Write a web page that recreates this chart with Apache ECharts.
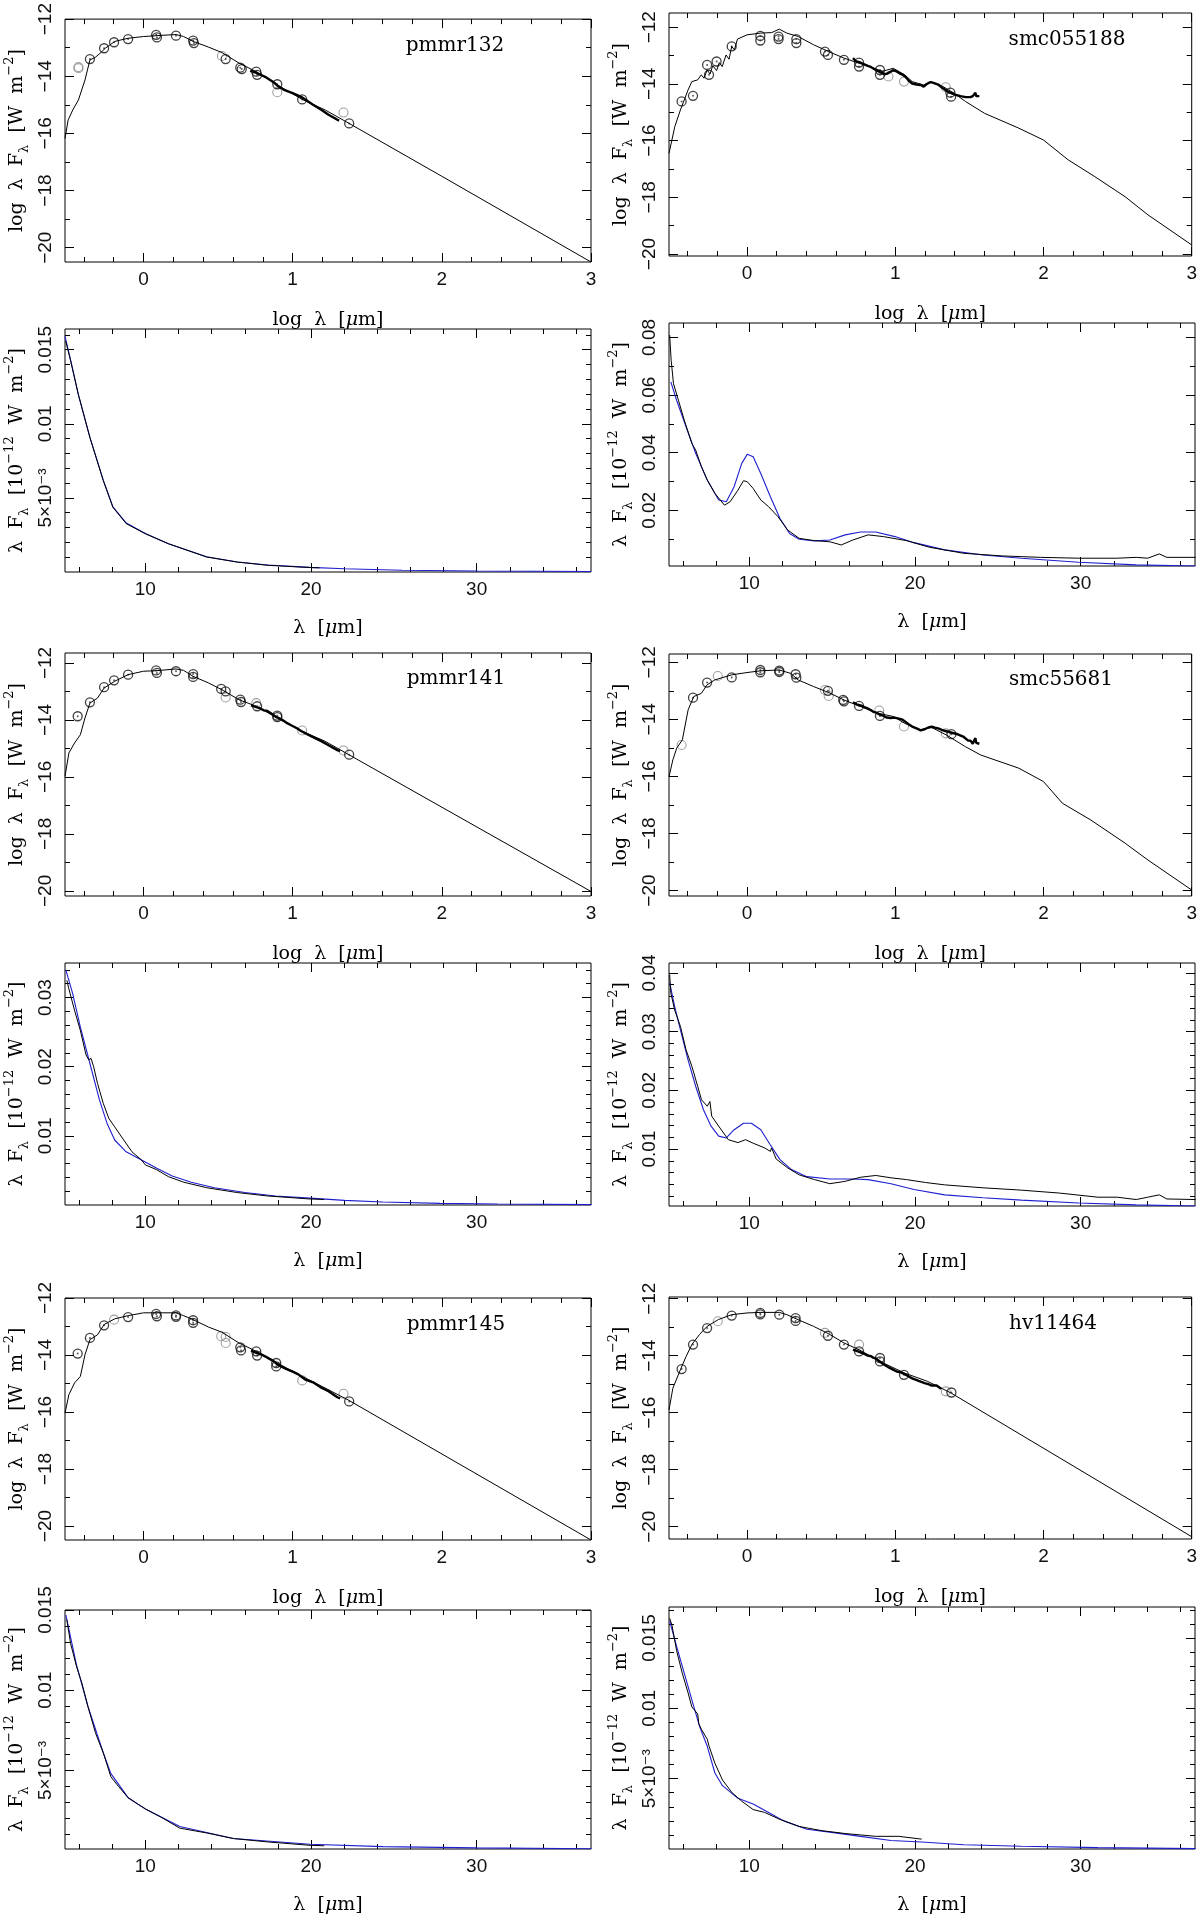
<!DOCTYPE html>
<html>
<head>
<meta charset="utf-8">
<title>SED fits</title>
<script src="https://cdn.jsdelivr.net/npm/echarts@6/dist/echarts.min.js"></script>
<style>
html, body { margin: 0; padding: 0; background: #fff; }
#chart { width: 1200px; height: 1921px; }
</style>
</head>
<body>
<div id="chart"></div>
<script>
// tick labels
var sedXLabels = [0, 1, 2, 3];
var sedXMinor = [-0.4, -0.2, 0.2, 0.4, 0.6, 0.8, 1.2, 1.4, 1.6, 1.8, 2.2, 2.4, 2.6, 2.8];
var sedYLabels = [-20, -18, -16, -14, -12];
var sedYMinor = [-19, -17, -15, -13];
var specXLabels = [10, 20, 30];
var specXMinor = [6, 8, 12, 14, 16, 18, 22, 24, 26, 28, 32, 34, 36];
var specYLabelsSmall = [0.005, 0.01, 0.015];
var specYMinorSmall = [0.001, 0.002, 0.003, 0.004, 0.006, 0.007, 0.008, 0.009, 0.011, 0.012, 0.013, 0.014, 0.016, 0.017];
var specYLabels55188 = [0.02, 0.04, 0.06, 0.08];
var specYMinor55188 = [0.01, 0.03, 0.05, 0.07];
var specYLabels141 = [0.01, 0.02, 0.03];
var specYLabels55681 = [0.01, 0.02, 0.03, 0.04];
var specYMinorMid = [0.002, 0.004, 0.006, 0.008, 0.012, 0.014, 0.016, 0.018, 0.022, 0.024, 0.026, 0.028, 0.032, 0.034, 0.036, 0.038];

// pmmr132: log lambda [um], log lambda F_lambda [W m-2]
var pmmr132Model = [[-0.526,-16.18],[-0.505,-15.53],[-0.474,-15.18],[-0.436,-14.83],[-0.392,-14.13],[-0.359,-13.43],[-0.321,-13.33],[-0.29,-13.19],[-0.256,-13.02],[-0.192,-12.78],[-0.103,-12.67],[0,-12.61],[0.115,-12.57],[0.218,-12.54],[0.269,-12.61],[0.333,-12.78],[0.436,-12.98],[0.526,-13.17],[0.641,-13.54],[0.756,-13.84],[0.897,-14.30],[1.064,-14.81],[1.218,-15.18],[1.372,-15.63],[2,-17.5],[3,-20.5]];
var pmmr132Phot = [[-0.359,-13.40],[-0.264,-13.02],[-0.197,-12.81],[-0.103,-12.70],[0.085,-12.55],[0.090,-12.64],[0.218,-12.58],[0.333,-12.75],[0.338,-12.84],[0.551,-13.40],[0.649,-13.70],[0.659,-13.75],[0.756,-13.84],[0.762,-13.95],[0.897,-14.28],[1.064,-14.81],[1.379,-15.65]];
var pmmr132PhotFaint = [[-0.436,-13.72],[-0.436,-13.68],[0.526,-13.29],[0.897,-14.56],[1.341,-15.27]];
// pmmr132: lambda [um], lambda F_lambda [1e-12 W m-2]
var pmmr132Spec = [[5.19,0.0156],[5.49,0.01425],[5.95,0.0120],[6.65,0.00909],[7.46,0.00617],[8.04,0.00437],[8.85,0.00326],[10,0.00258],[11.39,0.00191],[13.7,0.00101],[15.55,0.00067],[17.4,0.00045],[19.95,0.0003],[20.5,0.00028]];
var pmmr132Fit = [[5.15,0.0159],[5.49,0.0143],[5.95,0.0120],[6.65,0.0091],[7.46,0.0062],[8.04,0.0044],[8.85,0.0033],[10,0.0026],[11.39,0.0019],[13.7,0.00103],[15.55,0.00068],[17.4,0.00047],[19.95,0.00031],[22,0.00022],[25.5,0.00012],[30,0.00007],[36.9,0.00003]];

// smc055188
var smc055188Model = [[-0.526,-16.45],[-0.487,-15.51],[-0.449,-14.92],[-0.397,-14.21],[-0.372,-13.92],[-0.333,-13.86],[-0.308,-13.68],[-0.29,-13.80],[-0.269,-13.51],[-0.249,-13.65],[-0.231,-13.36],[-0.205,-13.53],[-0.187,-13.25],[-0.167,-13.39],[-0.141,-12.98],[-0.121,-13.13],[-0.103,-12.68],[-0.085,-12.80],[-0.064,-12.42],[0,-12.27],[0.09,-12.21],[0.167,-12.19],[0.218,-12.07],[0.269,-12.21],[0.346,-12.33],[0.449,-12.62],[0.551,-12.86],[0.654,-13.09],[0.756,-13.27],[0.859,-13.45],[0.91,-13.56],[0.987,-13.45],[1.064,-13.68],[1.115,-13.92],[1.192,-14.04],[1.244,-13.92],[1.321,-14.09],[1.397,-14.33],[1.474,-14.62],[1.603,-15.04],[1.833,-15.56],[2,-15.98],[2.167,-16.68],[2.346,-17.27],[2.551,-17.98],[2.705,-18.62],[3,-19.68]];
var smc055188Phot = [[-0.441,-14.62],[-0.364,-14.42],[-0.269,-13.33],[-0.256,-13.68],[-0.205,-13.21],[-0.103,-12.68],[0.09,-12.31],[0.09,-12.47],[0.213,-12.33],[0.213,-12.42],[0.333,-12.42],[0.333,-12.56],[0.526,-12.86],[0.546,-12.98],[0.654,-13.15],[0.756,-13.25],[0.756,-13.39],[0.897,-13.51],[0.897,-13.68],[1.372,-14.31],[1.377,-14.45]];
var smc055188PhotFaint = [[0.954,-13.74],[1.059,-13.92],[1.341,-14.12]];
var smc055188Spec = [[5.19,0.0808],[5.28,0.0721],[5.42,0.0640],[5.72,0.0582],[6.07,0.0513],[6.53,0.0432],[6.76,0.0409],[7.11,0.0351],[7.46,0.0305],[7.92,0.0259],[8.5,0.0218],[8.84,0.0230],[9.31,0.0270],[9.65,0.0303],[9.88,0.0299],[10.23,0.0276],[10.69,0.0236],[11.16,0.0213],[11.73,0.0178],[12.31,0.0132],[13.01,0.0103],[13.93,0.0095],[14.86,0.0091],[15.55,0.0080],[16.24,0.0097],[17.17,0.0115],[18.09,0.0109],[19.48,0.0095],[20.87,0.0072],[22.95,0.0051],[25.26,0.0042],[27.57,0.0037],[29.88,0.0034],[32.2,0.0034],[33.35,0.0037],[34.05,0.0034],[34.74,0.0049],[35.2,0.0037],[36.94,0.0037]];
var smc055188Fit = [[5.26,0.0646],[5.61,0.0582],[6.18,0.0490],[6.76,0.0398],[7.46,0.0305],[8.15,0.0236],[8.61,0.0230],[9.08,0.0282],[9.54,0.0363],[9.88,0.0395],[10.23,0.0386],[10.69,0.0328],[11.27,0.0247],[11.85,0.0172],[12.43,0.0120],[13.01,0.0100],[13.93,0.0094],[14.86,0.0097],[15.78,0.0115],[16.71,0.0125],[17.63,0.0125],[18.79,0.0109],[19.94,0.0088],[21.79,0.0063],[24.1,0.0045],[26.42,0.0034],[29.88,0.0020],[33.35,0.0011],[36.94,0.0007]];

// pmmr141
var pmmr141Model = [[-0.526,-15.98],[-0.5,-15.16],[-0.462,-14.81],[-0.423,-14.52],[-0.392,-13.93],[-0.359,-13.41],[-0.308,-13.23],[-0.264,-12.88],[-0.192,-12.64],[-0.103,-12.41],[0,-12.29],[0.09,-12.27],[0.218,-12.21],[0.269,-12.26],[0.333,-12.47],[0.436,-12.70],[0.526,-12.94],[0.641,-13.29],[0.756,-13.52],[0.897,-13.93],[1.064,-14.40],[1.218,-14.75],[1.377,-15.22],[3,-20.02]];
var pmmr141Phot = [[-0.441,-13.87],[-0.359,-13.38],[-0.264,-12.85],[-0.197,-12.61],[-0.103,-12.41],[0.085,-12.26],[0.09,-12.35],[0.218,-12.29],[0.333,-12.39],[0.333,-12.49],[0.521,-12.91],[0.551,-13.0],[0.649,-13.29],[0.654,-13.37],[0.762,-13.52],[0.897,-13.85],[0.897,-13.90],[1.379,-15.22]];
var pmmr141PhotFaint = [[0.551,-13.21],[0.756,-13.41],[1.064,-14.37],[1.341,-15.07]];
var pmmr141Spec = [[5.26,0.0325],[5.38,0.0313],[5.72,0.0282],[6.07,0.0253],[6.42,0.0217],[6.58,0.0210],[6.72,0.0212],[6.88,0.0200],[7.11,0.0176],[7.46,0.0147],[7.8,0.0125],[8.15,0.0113],[8.61,0.0097],[9.19,0.0077],[9.77,0.0065],[10,0.0058],[10.69,0.0051],[11.39,0.0041],[12.31,0.0033],[13.7,0.0025],[15.55,0.0018],[17.4,0.0013],[19.94,0.00087],[20.8,0.0008]];
var pmmr141Fit = [[5.2,0.0340],[5.61,0.0306],[6.07,0.0258],[6.65,0.0205],[7.23,0.0152],[7.69,0.0118],[8.15,0.0094],[8.84,0.0077],[9.77,0.0065],[10.69,0.0053],[11.62,0.0042],[12.77,0.0033],[14.16,0.0025],[16.01,0.0018],[17.86,0.0013],[19.94,0.0010],[22.02,0.00067],[24.34,0.00043],[27.8,0.00024],[31.27,0.00014],[36.94,0.00005]];

// smc55681
var smc55681Model = [[-0.526,-16.01],[-0.5,-15.42],[-0.474,-15.01],[-0.436,-14.72],[-0.397,-13.67],[-0.359,-13.20],[-0.308,-13.09],[-0.269,-12.79],[-0.218,-12.62],[-0.103,-12.44],[0,-12.36],[0.09,-12.30],[0.218,-12.27],[0.295,-12.39],[0.346,-12.62],[0.449,-12.85],[0.551,-13.06],[0.654,-13.32],[0.756,-13.53],[0.885,-13.79],[0.987,-13.90],[1.064,-14.14],[1.167,-14.37],[1.244,-14.28],[1.346,-14.55],[1.474,-14.96],[1.577,-15.25],[1.833,-15.71],[2,-16.18],[2.128,-16.94],[2.32,-17.53],[2.551,-18.34],[2.705,-18.93],[3,-19.98]];
var smc55681Phot = [[-0.364,-13.24],[-0.269,-12.71],[-0.103,-12.53],[0.09,-12.27],[0.09,-12.35],[0.218,-12.29],[0.218,-12.34],[0.328,-12.42],[0.333,-12.54],[0.546,-13.0],[0.649,-13.32],[0.654,-13.37],[0.756,-13.53],[0.897,-13.88],[1.379,-14.52]];
var smc55681PhotFaint = [[-0.441,-14.90],[-0.197,-12.48],[0.526,-12.97],[0.551,-13.18],[0.892,-13.69],[1.059,-14.25],[1.341,-14.49]];
var smc55681Spec = [[5.19,0.0397],[5.26,0.0366],[5.49,0.0337],[5.84,0.0309],[6.18,0.0269],[6.53,0.0241],[6.88,0.0207],[7.11,0.0184],[7.46,0.0173],[7.62,0.0181],[7.73,0.0156],[8.15,0.0139],[8.73,0.0116],[9.31,0.0111],[9.77,0.0116],[10.23,0.0110],[10.92,0.0102],[11.27,0.0096],[11.34,0.0102],[11.62,0.0083],[12.31,0.0068],[13.01,0.0056],[13.93,0.0048],[14.86,0.0041],[15.78,0.0045],[16.71,0.0052],[17.63,0.0055],[18.55,0.0051],[19.48,0.0048],[20.64,0.0043],[21.79,0.0039],[24.1,0.0034],[26.42,0.0030],[28.73,0.0025],[31.04,0.0018],[32.2,0.0018],[33.35,0.0014],[34.05,0.0018],[34.74,0.0022],[35.2,0.0015],[36.94,0.0014]];
var smc55681Fit = [[5.19,0.0383],[5.49,0.0343],[5.84,0.0303],[6.3,0.0252],[6.76,0.0207],[7.23,0.0167],[7.69,0.0139],[8.15,0.0122],[8.61,0.0119],[9.08,0.0133],[9.65,0.0144],[10.12,0.0144],[10.69,0.0133],[11.27,0.0107],[11.85,0.0082],[12.54,0.0065],[13.47,0.0053],[14.86,0.0049],[16.24,0.0049],[17.17,0.0048],[18.55,0.0041],[19.94,0.0031],[21.79,0.0022],[24.1,0.0017],[26.42,0.0013],[29.88,0.0008],[33.35,0.0005],[36.94,0.0003]];

// pmmr145
var pmmr145Model = [[-0.526,-16.04],[-0.5,-15.39],[-0.462,-14.98],[-0.423,-14.75],[-0.392,-13.99],[-0.359,-13.46],[-0.308,-13.29],[-0.264,-12.93],[-0.192,-12.73],[-0.103,-12.62],[0,-12.52],[0.09,-12.52],[0.218,-12.52],[0.269,-12.62],[0.333,-12.76],[0.436,-13.02],[0.526,-13.20],[0.641,-13.58],[0.756,-13.87],[0.897,-14.28],[1.064,-14.75],[1.218,-15.16],[1.377,-15.59],[3,-20.49]];
var pmmr145Phot = [[-0.441,-13.95],[-0.359,-13.40],[-0.264,-12.96],[-0.103,-12.67],[0.085,-12.56],[0.09,-12.64],[0.218,-12.61],[0.218,-12.66],[0.333,-12.78],[0.333,-12.87],[0.649,-13.73],[0.654,-13.84],[0.756,-13.87],[0.762,-14.02],[0.89,-14.28],[0.89,-14.40],[1.379,-15.63]];
var pmmr145PhotFaint = [[-0.197,-12.76],[0.521,-13.34],[0.551,-13.37],[0.551,-13.58],[1.064,-14.89],[1.341,-15.36]];
var pmmr145Spec = [[5.26,0.0144],[5.49,0.0129],[5.84,0.0115],[6.18,0.0104],[6.53,0.0090],[7.0,0.0073],[7.46,0.0061],[7.92,0.0046],[8.38,0.0040],[8.96,0.0033],[9.54,0.0029],[10,0.0026],[10.92,0.0021],[12.08,0.0014],[13.7,0.0011],[15.32,0.00075],[17.4,0.00054],[19.94,0.00033],[20.8,0.0003]];
var pmmr145Fit = [[5.2,0.0147],[5.84,0.0116],[6.53,0.0090],[7.46,0.0061],[7.92,0.0048],[8.96,0.0033],[10,0.0026],[12.08,0.0015],[15.32,0.00075],[19.94,0.0004],[24.34,0.00025],[30,0.00017],[36.94,0.00012]];

// hv11464
var hv11464Model = [[-0.526,-15.90],[-0.5,-15.14],[-0.449,-14.49],[-0.41,-14.02],[-0.372,-13.61],[-0.321,-13.26],[-0.269,-12.97],[-0.192,-12.73],[-0.103,-12.56],[0,-12.50],[0.09,-12.48],[0.218,-12.48],[0.269,-12.56],[0.333,-12.71],[0.449,-12.97],[0.551,-13.23],[0.654,-13.55],[0.756,-13.79],[0.897,-14.20],[1.064,-14.61],[1.218,-14.90],[1.377,-15.31],[3,-20.35]];
var hv11464Phot = [[-0.441,-14.47],[-0.364,-13.61],[-0.269,-13.03],[-0.103,-12.59],[0.09,-12.50],[0.09,-12.55],[0.218,-12.56],[0.328,-12.68],[0.328,-12.78],[0.546,-13.30],[0.654,-13.61],[0.756,-13.85],[0.897,-14.08],[0.897,-14.20],[1.059,-14.67],[1.379,-15.29]];
var hv11464PhotFaint = [[-0.197,-12.79],[0.526,-13.20],[0.756,-13.61],[1.341,-15.25]];
var hv11464Spec = [[5.19,0.0164],[5.33,0.0159],[5.61,0.0141],[5.95,0.0125],[6.3,0.0111],[6.53,0.0101],[6.88,0.0096],[6.95,0.0089],[7.11,0.0085],[7.46,0.0078],[7.57,0.0073],[7.92,0.0061],[8.38,0.0049],[8.96,0.0040],[9.54,0.0034],[10.23,0.0028],[10.92,0.0026],[11.85,0.0021],[13.01,0.0016],[14.39,0.0013],[15.78,0.0011],[16.71,0.0010],[17.63,0.0009],[19.02,0.0009],[20.4,0.0007]];
var hv11464Fit = [[5.19,0.0162],[5.61,0.0144],[6.07,0.0125],[6.53,0.0106],[7.0,0.0087],[7.46,0.0073],[7.92,0.0054],[8.38,0.0045],[9.31,0.0036],[10.23,0.0032],[11.16,0.0026],[12.08,0.0020],[13.47,0.0014],[14.86,0.0012],[16.71,0.0009],[18.55,0.0006],[20.4,0.0005],[22.95,0.0003],[26.42,0.0002],[31.04,0.0001],[36.94,0.00003]];

var panels = [
	{kind: 'sed', col: 0, top: 19, height: 243, yMin: -20.5, yMax: -12, model: pmmr132Model, phot: pmmr132Phot, faint: pmmr132PhotFaint, irs: pmmr132Spec, label: 'pmmr132', labelAt: [455, 46]},
	{kind: 'sed', col: 1, top: 13, height: 243, yMin: -20.07, yMax: -11.5, model: smc055188Model, phot: smc055188Phot, faint: smc055188PhotFaint, irs: smc055188Spec, label: 'smc055188', labelAt: [1067, 40]},
	{kind: 'spec', col: 0, top: 329, height: 243, yMin: 0, yMax: 0.0164, yLabels: specYLabelsSmall, yMinor: specYMinorSmall, obs: pmmr132Spec, fit: pmmr132Fit},
	{kind: 'spec', col: 1, top: 323, height: 243, yMin: 0.0007, yMax: 0.085, yLabels: specYLabels55188, yMinor: specYMinor55188, obs: smc055188Spec, fit: smc055188Fit},
	{kind: 'sed', col: 0, top: 653, height: 243, yMin: -20.18, yMax: -11.65, model: pmmr141Model, phot: pmmr141Phot, faint: pmmr141PhotFaint, irs: pmmr141Spec, label: 'pmmr141', labelAt: [456, 679]},
	{kind: 'sed', col: 1, top: 654, height: 242, yMin: -20.19, yMax: -11.71, model: smc55681Model, phot: smc55681Phot, faint: smc55681PhotFaint, irs: smc55681Spec, label: 'smc55681', labelAt: [1061, 680]},
	{kind: 'spec', col: 0, top: 963, height: 242, yMin: 0, yMax: 0.035, yLabels: specYLabels141, yMinor: specYMinorMid, obs: pmmr141Spec, fit: pmmr141Fit},
	{kind: 'spec', col: 1, top: 963, height: 243, yMin: 0.0003, yMax: 0.0417, yLabels: specYLabels55681, yMinor: specYMinorMid, obs: smc55681Spec, fit: smc55681Fit},
	{kind: 'sed', col: 0, top: 1298, height: 242, yMin: -20.49, yMax: -12, model: pmmr145Model, phot: pmmr145Phot, faint: pmmr145PhotFaint, irs: pmmr145Spec, label: 'pmmr145', labelAt: [456, 1325]},
	{kind: 'sed', col: 1, top: 1297, height: 242, yMin: -20.43, yMax: -11.94, model: hv11464Model, phot: hv11464Phot, faint: hv11464PhotFaint, irs: hv11464Spec, label: 'hv11464', labelAt: [1053, 1324]},
	{kind: 'spec', col: 0, top: 1610, height: 239, yMin: 0.0001, yMax: 0.0150, yLabels: specYLabelsSmall, yMinor: specYMinorSmall, obs: pmmr145Spec, fit: pmmr145Fit},
	{kind: 'spec', col: 1, top: 1607, height: 242, yMin: 0, yMax: 0.0172, yLabels: specYLabelsSmall, yMinor: specYMinorSmall, obs: hv11464Spec, fit: hv11464Fit}
];

var colLeft = [65, 669];
var gridWidth = 526;
var SERIF = '"DejaVu Serif", "Liberation Serif", serif';
var SANS = '"Liberation Sans", "DejaVu Sans", Arial, sans-serif';

var nameRich = {
	n: {fontFamily: SERIF, fontSize: 19, lineHeight: 28, color: '#000'},
	i: {fontFamily: SERIF, fontSize: 19, lineHeight: 28, fontStyle: 'italic', color: '#000'},
	sb: {fontFamily: SERIF, fontSize: 13, lineHeight: 14, verticalAlign: 'bottom', color: '#000'},
	sp: {fontFamily: SERIF, fontSize: 13, lineHeight: 14, verticalAlign: 'top', color: '#000'}
};

var sedXName = '{n|log  λ  [}{i|μ}{n|m]}';
var sedYName = '{n|log  λ  F}{sb|λ}{n|  [W  m}{sp|−2}{n|]}';
var specXName = '{n|λ  [}{i|μ}{n|m]}';
var specYName = '{n|λ  F}{sb|λ}{n|  [10}{sp|−12}{n|  W  m}{sp|−2}{n|]}';

function sedYFmt(v) {
	return v < 0 ? '−' + Math.abs(v) : String(v);
}
function plainFmt(v) {
	return String(v);
}
function specYFmt(v) {
	if (Math.abs(v - 0.005) < 1e-9) return '5×10⁻³';
	return String(+v.toFixed(4));
}

// four sides, major + minor ticks each; the first axis carries labels and name
function axisSet(dim, g, min, max, labels, minor, fmt, name, nameGap) {
	var sides = dim === 'x' ? ['bottom', 'top'] : ['left', 'right'];
	var list = [];
	sides.forEach(function(side, s) {
		[labels, minor].forEach(function(vals, m) {
			var ax = {
				type: 'value',
				gridIndex: g,
				position: side,
				min: min,
				max: max,
				axisLine: {show: false, onZero: false},
				splitLine: {show: false},
				axisTick: {show: true, inside: true, length: m === 0 ? 9 : 5, customValues: vals, lineStyle: {color: '#000', width: 1}},
				axisLabel: {show: false}
			};
			if (s === 0 && m === 0) {
				ax.axisLabel = {
					show: true,
					customValues: labels,
					formatter: fmt,
					rotate: dim === 'y' ? 90 : 0,
					margin: dim === 'y' ? 10 : 8,
					fontFamily: SANS,
					fontSize: 19,
					color: '#111'
				};
				ax.name = name;
				ax.nameLocation = 'middle';
				ax.nameGap = nameGap;
				ax.nameRotate = dim === 'y' ? 90 : 0;
				ax.nameTextStyle = {rich: nameRich};
			}
			list.push(ax);
		});
	});
	return list;
}

function toLog(spec) {
	return spec.map(function(p) {
		return [Math.log10(p[0]), -12 + Math.log10(p[1])];
	});
}

var grids = [], xAxes = [], yAxes = [], series = [], graphics = [];

panels.forEach(function(p, g) {
	grids.push({
		left: colLeft[p.col], top: p.top, width: gridWidth, height: p.height,
		show: true, borderColor: '#000', borderWidth: 1, backgroundColor: 'transparent'
	});
	var xi = xAxes.length, yi = yAxes.length;
	if (p.kind === 'sed') {
		xAxes = xAxes.concat(axisSet('x', g, -0.526, 3, sedXLabels, sedXMinor, plainFmt, sedXName, 44));
		yAxes = yAxes.concat(axisSet('y', g, p.yMin, p.yMax, sedYLabels, sedYMinor, sedYFmt, sedYName, 34));
		series.push({
			type: 'line', xAxisIndex: xi, yAxisIndex: yi, data: p.model, symbol: 'none',
			lineStyle: {color: '#000', width: 1}, silent: true
		});
		series.push({
			type: 'line', xAxisIndex: xi, yAxisIndex: yi, data: toLog(p.irs), symbol: 'none',
			lineStyle: {color: '#000', width: 2.4}, silent: true
		});
		series.push({
			type: 'scatter', xAxisIndex: xi, yAxisIndex: yi, data: p.faint, symbol: 'circle', symbolSize: 9,
			itemStyle: {color: 'transparent', borderColor: '#888', borderWidth: 1.1}, silent: true
		});
		series.push({
			type: 'scatter', xAxisIndex: xi, yAxisIndex: yi, data: p.phot, symbol: 'circle', symbolSize: 9,
			itemStyle: {color: 'transparent', borderColor: '#111', borderWidth: 1.3}, silent: true
		});
		// small error-bar dot in the middle of each circle
		series.push({
			type: 'scatter', xAxisIndex: xi, yAxisIndex: yi, data: p.phot, symbol: 'circle', symbolSize: 2,
			itemStyle: {color: '#333'}, silent: true
		});
		graphics.push({
			type: 'text', x: p.labelAt[0], y: p.labelAt[1],
			style: {
				text: p.label, fill: '#000', fontFamily: 'DejaVu Serif', fontSize: 20,
				align: 'center', verticalAlign: 'middle', textAlign: 'center', textVerticalAlign: 'middle'
			}
		});
	} else {
		xAxes = xAxes.concat(axisSet('x', g, 5.15, 36.9, specXLabels, specXMinor, plainFmt, specXName, 42));
		yAxes = yAxes.concat(axisSet('y', g, p.yMin, p.yMax, p.yLabels, p.yMinor, specYFmt, specYName, 34));
		series.push({
			type: 'line', xAxisIndex: xi, yAxisIndex: yi, data: p.fit, symbol: 'none',
			lineStyle: {color: '#1f1fd0', width: 1.1}, silent: true
		});
		series.push({
			type: 'line', xAxisIndex: xi, yAxisIndex: yi, data: p.obs, symbol: 'none',
			lineStyle: {color: '#000', width: 1}, silent: true
		});
	}
});

var chart = echarts.init(document.getElementById('chart'), null, {renderer: 'canvas'});
chart.setOption({
	animation: false,
	backgroundColor: '#fff',
	grid: grids,
	xAxis: xAxes,
	yAxis: yAxes,
	series: series,
	graphic: graphics
});
</script>
</body>
</html>
